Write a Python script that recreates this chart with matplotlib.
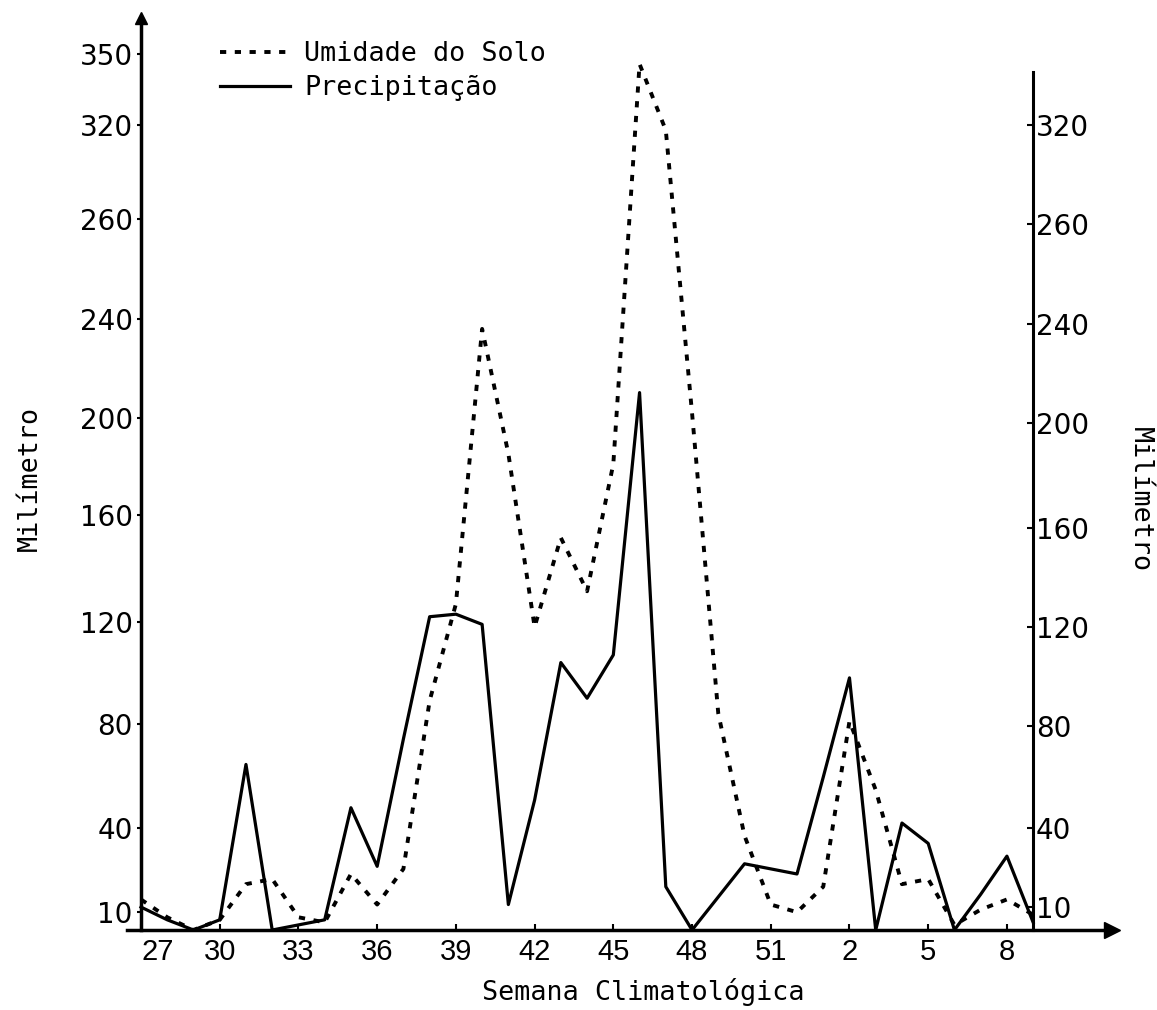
import matplotlib
matplotlib.use("Agg")
import matplotlib.pyplot as plt

# ---- data ----
weeks = list(range(27, 53)) + list(range(1, 10))
precipitacao = [9, 4, 0, 4, 65, 0, 2, 4, 48, 25,
                75, 123, 124, 120, 10, 51, 105, 91, 108, 211,
                17, 0, 13, 26, 24, 22, 60, 99, 0, 42,
                34, 0, 14, 29, 3]
umidade = [12, 5, 0, 4, 18, 20, 5, 3, 22, 10,
           24, 90, 128, 236, 187, 119, 154, 133, 183, 340,
           314, 203, 85, 37, 10, 7, 17, 82, 55, 18,
           20, 2, 8, 12, 6]
xtick_weeks = [27, 30, 33, 36, 39, 42, 45, 48, 51, 2, 5, 8]
ytick_labels_left = ['10', '40', '80', '120', '160', '200', '240', '260', '320', '350']
ytick_labels_right = ['10', '40', '80', '120', '160', '200', '240', '260', '320']
# where the (hand-drawn) labels sit on the linear millimetre scale
ytick_pos_left = [7, 40, 81, 121, 163, 201, 240, 279, 316, 344]
ytick_pos_right = [9, 40, 80, 119, 158, 199, 238, 277, 316]

idx = list(range(len(weeks)))
xtick_idx = [weeks.index(w) for w in xtick_weeks]

mono = 'DejaVu Sans Mono'
fig = plt.figure(figsize=(11.57, 10.10), dpi=100)
ax = fig.add_axes([0.1094, 0.0792, 0.8516, 0.9028])
ax.set_xlim(-0.55, 37.0)
ax.set_ylim(0, 358)

ax.plot(idx, umidade, color='black', lw=2.8, linestyle=(0, (1.6, 2.2)),
        label='Umidade do Solo')
ax.plot(idx, precipitacao, color='black', lw=2.3, label='Precipitação')

# spines
for s in ['top', 'right']:
    ax.spines[s].set_visible(False)
ax.spines['left'].set_position(('data', 0))
ax.spines['left'].set_linewidth(2.5)
ax.spines['bottom'].set_linewidth(2.5)
ax.plot(1, 0, '>k', ms=11, transform=ax.get_yaxis_transform(), clip_on=False)
ax.plot(0, 1, '^k', ms=9, transform=ax.get_xaxis_transform(), clip_on=False)

ax.set_xticks(xtick_idx)
ax.set_xticklabels([str(w) for w in xtick_weeks], family='Liberation Sans', fontsize=21)
ax.get_xticklabels()[0].set_horizontalalignment('left')
ax.tick_params(axis='x', direction='in', length=4, width=1.5, pad=6)

ax.set_yticks(ytick_pos_left)
ax.set_yticklabels(ytick_labels_left, family='DejaVu Sans', fontsize=20)
ax.tick_params(axis='y', direction='out', length=3, width=1.5, pad=3)

ax2 = ax.twinx()
ax2.set_ylim(ax.get_ylim())
for s in ['top', 'left', 'bottom']:
    ax2.spines[s].set_visible(False)
ax2.spines['right'].set_position(('data', 34))
ax2.spines['right'].set_bounds(0, 337)
ax2.spines['right'].set_linewidth(2.2)
ax2.set_yticks(ytick_pos_right)
ax2.set_yticklabels(ytick_labels_right, family='DejaVu Sans', fontsize=20)
ax2.tick_params(axis='y', direction='in', length=4, width=1.5, pad=2)

fig.text(643 / 1157, 1 - 992 / 1010, 'Semana Climatológica', family=mono,
         fontsize=19.3, ha='center', va='center')
fig.text(30 / 1157, 1 - 478 / 1010, 'Milímetro', family=mono, fontsize=19.3,
         rotation=90, ha='center', va='center')
fig.text(1140 / 1157, 1 - 500 / 1010, 'Milímetro', family=mono, fontsize=19.3,
         rotation=270, ha='center', va='center')

fig.legend(loc='upper left', bbox_to_anchor=(220 / 1157, 1 - 41 / 1010),
           frameon=False, prop={'family': mono, 'size': 19.3},
           handlelength=2.6, handletextpad=0.55, labelspacing=0.3,
           borderpad=0, borderaxespad=0)

fig.savefig('out.png', dpi=100)
